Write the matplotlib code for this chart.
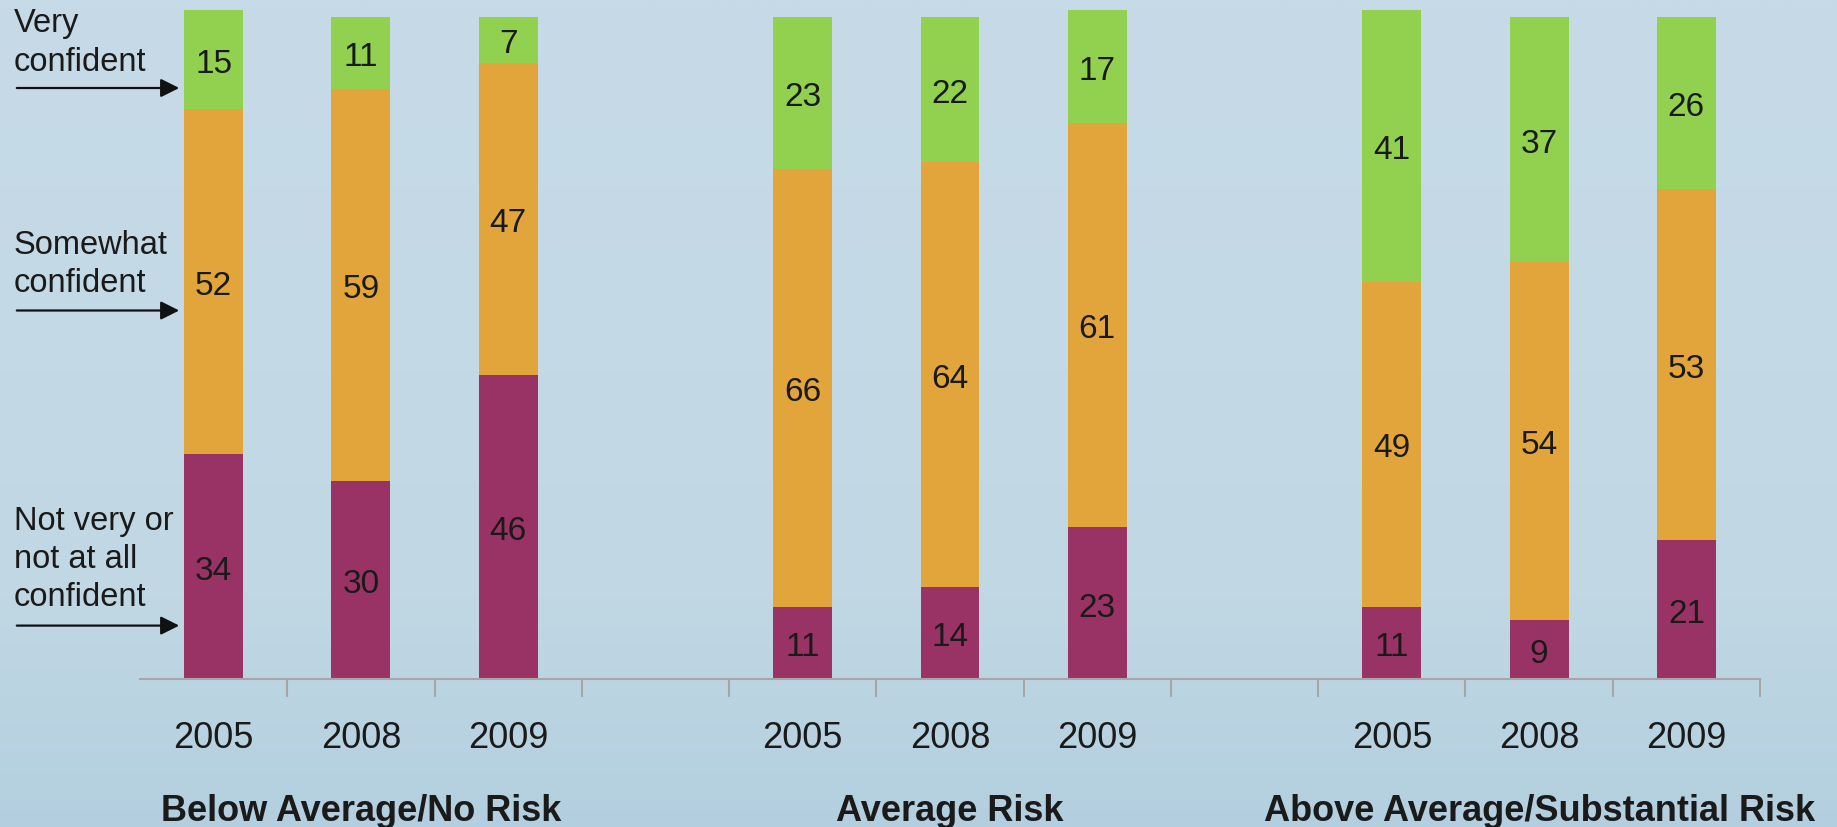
"""
plot.py - retirement confidence by risk group (stacked bars)
"""
import numpy as np
import matplotlib
matplotlib.use('Agg')
import matplotlib.pyplot as plt
from matplotlib.colors import to_rgb

plt.rcParams['font.family'] = ['Liberation Sans', 'DejaVu Sans']

# data
groups = ["Below Average/No Risk", "Average Risk", "Above Average/Substantial Risk"]
years = ["2005", "2008", "2009"]
not_confident = [34, 30, 46, 11, 14, 23, 11, 9, 21]
somewhat_confident = [52, 59, 47, 66, 64, 61, 49, 54, 53]
very_confident = [15, 11, 7, 23, 22, 17, 41, 37, 26]

side_labels = ["Very\nconfident", "Somewhat\nconfident", "Not very or\nnot at all\nconfident"]

PURPLE = '#993366'
ORANGE = '#E1A53B'
GREEN = '#92D050'


def draw_background(fig):
    """soft blue backdrop, slightly darker towards the bottom"""
    bg = fig.add_axes([0, 0, 1, 1], zorder=-10)
    stops = [(0.0, '#c6dbe7'), (0.45, '#c3d9e5'), (0.72, '#c1d8e4'),
             (0.78, '#bed6e3'), (1.0, '#b3cfdf')]
    t = np.linspace(0, 1, 400)
    cols = np.array([to_rgb(c) for _, c in stops])
    pos = [p for p, _ in stops]
    rgb = np.stack([np.interp(t, pos, cols[:, k]) for k in range(3)], axis=-1)
    img = np.repeat(rgb[:, None, :], 2, axis=1)
    bg.imshow(img, aspect='auto', extent=[0, 1, 0, 1], origin='upper')
    bg.set_axis_off()


def seg_label(ax, x, y, val):
    ax.annotate(str(val), (x, y), xytext=(0, -3.5), textcoords='offset points',
                ha='center', va='center', fontsize=24, color='#1a1a1a')


fig = plt.figure(figsize=(18.37, 8.27), dpi=100)
draw_background(fig)

ax = fig.add_axes([0.0762, 0.1784, 0.8819, 0.8216])
ax.set_facecolor('none')

xs = [g * 4 + j for g in range(len(groups)) for j in range(len(years))]
nc = np.array(not_confident)
sc = np.array(somewhat_confident)
vc = np.array(very_confident)

ax.bar(xs, nc, width=0.4, color=PURPLE)
ax.bar(xs, sc, width=0.4, bottom=nc, color=ORANGE)
ax.bar(xs, vc, width=0.4, bottom=nc + sc, color=GREEN)

# value labels centred in each segment
for x, a, b, c in zip(xs, nc, sc, vc):
    seg_label(ax, x, a / 2, a)
    seg_label(ax, x, a + b / 2, b)
    seg_label(ax, x, a + b + c / 2, c)

ax.set_xlim(-0.5, 10.5)
ax.set_ylim(0, 102.5)
for s in ['top', 'right', 'left']:
    ax.spines[s].set_visible(False)
ax.spines['bottom'].set_color('#a6a6a6')
ax.spines['bottom'].set_linewidth(1.5)
ax.set_yticks([])

ax.set_xticks(xs)
ax.set_xticklabels(years * len(groups), fontsize=26, color='#1a1a1a')
ax.tick_params(axis='x', which='major', length=0, pad=30)
ax.set_xticks(np.arange(0.5, 11, 1.0), minor=True)
ax.tick_params(axis='x', which='minor', length=13, width=1.5, color='#a6a6a6', direction='out')

# group titles under each cluster
for g, name in enumerate(groups):
    ax.text(g * 4 + 1, -0.194, name, transform=ax.get_xaxis_transform(),
            ha='center', va='center', fontsize=26, fontweight='bold', color='#1a1a1a')

# legend-like side labels with arrows
label_y = [0.948, 0.6805, 0.3235]
arrow_y = [1 - 88 / 827, 1 - 310.5 / 827, 1 - 625.6 / 827]
for text, ty, ay in zip(side_labels, label_y, arrow_y):
    fig.text(14 / 1837, ty, text, ha='left', va='center', fontsize=23.5,
             color='#1a1a1a', linespacing=1.3)
    fig.add_artist(matplotlib.patches.FancyArrowPatch(
        (14 / 1837, ay), (182 / 1837, ay), transform=fig.transFigure,
        arrowstyle='-|>', mutation_scale=28, lw=1.6, color='#111111'))

plt.savefig('out.png', dpi=100)
plt.close()
